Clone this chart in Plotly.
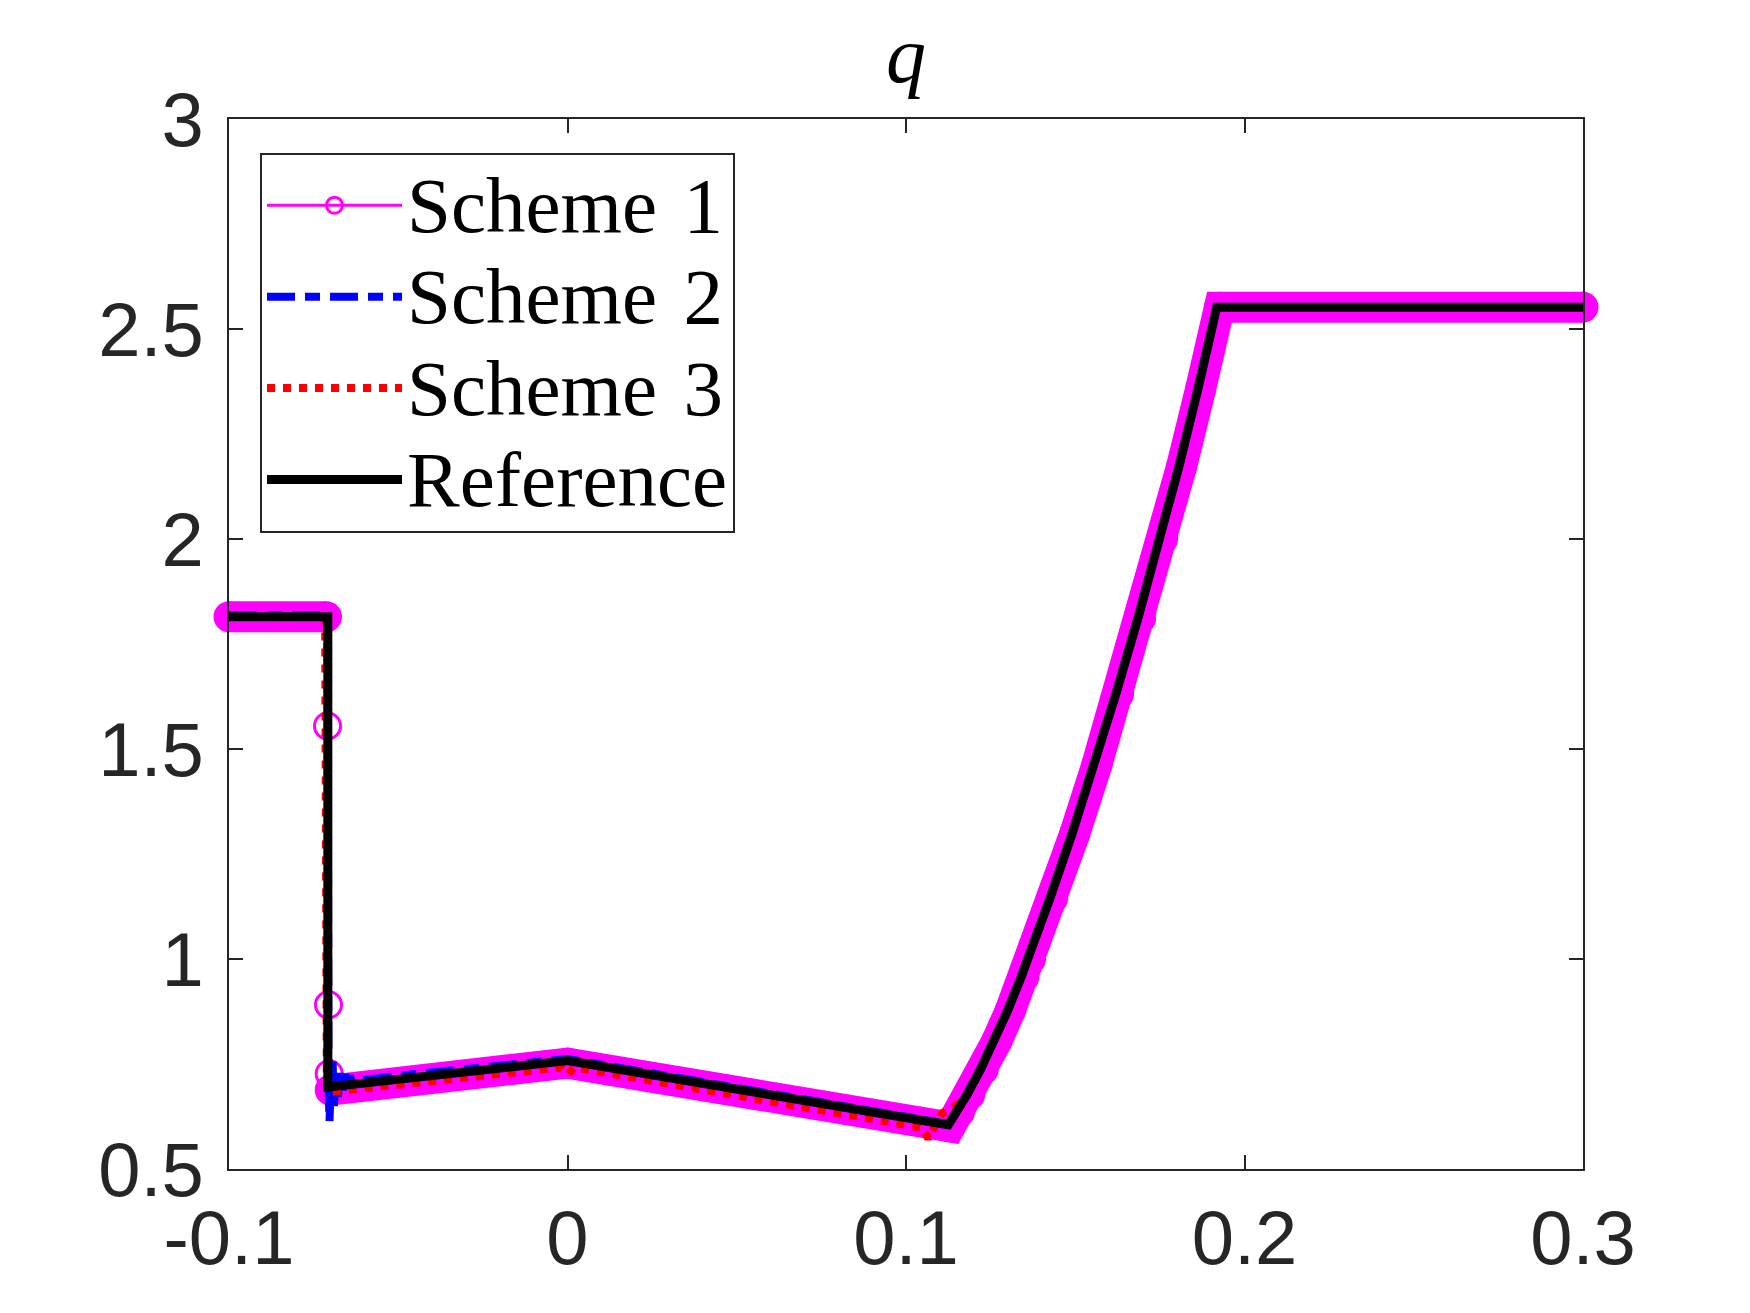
import plotly.graph_objects as go

# ---------------- data ----------------
ref_x = [-0.1, -0.0708, -0.0708, 0.0, 0.1125, 0.115, 0.118, 0.122, 0.126, 0.130,
         0.134, 0.136, 0.1425, 0.149, 0.1555, 0.162, 0.1685, 0.175, 0.1806,
         0.1862, 0.1918, 0.3]
ref_y = [1.815, 1.815, 0.695, 0.758, 0.605, 0.636, 0.677, 0.737, 0.804, 0.877,
         0.957, 1.0, 1.144, 1.297, 1.460, 1.631, 1.811, 2.0, 2.172,
         2.356, 2.552, 2.552]

# Scheme 1: left state, isolated shock samples, right part
s1_left_x = [-0.1, -0.0712]
s1_left_y = [1.815, 1.815]
s1_shock_x = [-0.0709, -0.0706, -0.0704]
s1_shock_y = [1.555, 0.891, 0.727]
s1_right_x = [-0.0701, 0.0, 0.1130, 0.1158, 0.1188, 0.1228, 0.1268, 0.1308,
              0.1348, 0.1368, 0.1433, 0.1498, 0.1563, 0.1628, 0.1693, 0.1758,
              0.1814, 0.1870, 0.1926, 0.3]
s1_right_y = [0.688, 0.752, 0.600, 0.636, 0.677, 0.737, 0.804, 0.877,
              0.957, 1.0, 1.144, 1.297, 1.460, 1.631, 1.811, 2.0,
              2.172, 2.356, 2.552, 2.552]

# Scheme 2 (oscillations behind the shock)
s2_x = [-0.1, -0.0709, -0.0706, -0.0703, -0.0700, -0.0694, -0.0690, -0.0684,
        -0.0678, -0.0671, -0.0664, -0.0657, -0.0650, -0.0643, -0.0636, -0.060,
        -0.045, -0.030, 0.0, 0.1125, 0.115, 0.118, 0.122, 0.126, 0.130,
        0.134, 0.136, 0.1425, 0.149, 0.1555, 0.162, 0.1685, 0.175, 0.1806,
        0.1862, 0.1918, 0.3]
s2_y = [1.818, 1.818, 0.700, 0.613, 0.700, 0.760, 0.650, 0.740,
        0.672, 0.728, 0.688, 0.726, 0.694, 0.722, 0.703, 0.712,
        0.726, 0.739, 0.762, 0.607, 0.636, 0.677, 0.737, 0.804, 0.877,
        0.957, 1.0, 1.144, 1.297, 1.460, 1.631, 1.811, 2.0, 2.172,
        2.356, 2.552, 2.552]

# Scheme 3
s3_x = [-0.1, -0.0716, -0.0711, -0.0706, -0.002, 0.0, 0.002, 0.105, 0.1066,
        0.1105, 0.1145, 0.118, 0.122, 0.126, 0.130, 0.134, 0.136, 0.1425,
        0.149, 0.1555, 0.162, 0.1685, 0.175, 0.1806, 0.1862, 0.1918, 0.3]
s3_y = [1.815, 1.815, 0.700, 0.683, 0.742, 0.725, 0.742, 0.598, 0.572,
        0.632, 0.650, 0.677, 0.737, 0.804, 0.877, 0.957, 1.0, 1.144,
        1.297, 1.460, 1.631, 1.811, 2.0, 2.172, 2.356, 2.552, 2.552]

x_ticks = [-0.1, 0.0, 0.1, 0.2, 0.3]
x_ticktext = ["-0.1", "0", "0.1", "0.2", "0.3"]
y_ticks = [0.5, 1.0, 1.5, 2.0, 2.5, 3.0]
y_ticktext = ["0.5", "1", "1.5", "2", "2.5", "3"]

names = ["Scheme 1", "Scheme 2", "Scheme 3", "Reference"]

MAG = "#FF00FF"
AXC = "#262626"


def legend_label(s):
    return '<span style="font-size:79px">' + s.replace(" ", "\u2004") + "</span>"


fig = go.Figure()

# thick band produced by the dense circle markers of Scheme 1
band_x = s1_left_x + [None] + s1_right_x
band_y = s1_left_y + [None] + s1_right_y
fig.add_trace(go.Scatter(
    x=band_x, y=band_y, mode="lines+markers", showlegend=False, hoverinfo="skip",
    line=dict(color=MAG, width=31), marker=dict(symbol="circle", size=31, color=MAG),
    cliponaxis=False, connectgaps=False))

fig.add_trace(go.Scatter(
    x=s1_left_x + s1_shock_x + s1_right_x, y=s1_left_y + s1_shock_y + s1_right_y,
    mode="lines+markers", name=legend_label(names[0]),
    line=dict(color=MAG, width=3),
    marker=dict(symbol="circle-open", size=26, color=MAG, line=dict(width=3, color=MAG)),
    cliponaxis=False))

fig.add_trace(go.Scatter(
    x=s2_x, y=s2_y, mode="lines", name=legend_label(names[1]),
    line=dict(color="#0000FF", width=8, dash="28px,10px,15px,10px")))

fig.add_trace(go.Scatter(
    x=s3_x, y=s3_y, mode="lines", name=legend_label(names[2]),
    line=dict(color="#FF0000", width=8, dash="8px,8px")))

fig.add_trace(go.Scatter(
    x=ref_x, y=ref_y, mode="lines", name=legend_label(names[3]),
    line=dict(color="black", width=9)))

axis_common = dict(
    showgrid=False, zeroline=False, showline=True, linecolor=AXC, linewidth=2,
    mirror="ticks", ticks="inside", ticklen=14, tickwidth=2, tickcolor=AXC,
    tickfont=dict(family="Liberation Sans, Arial, sans-serif", size=76, color=AXC),
)

fig.update_layout(
    width=1750, height=1313,
    margin=dict(l=229, r=167, t=119, b=144),
    paper_bgcolor="white", plot_bgcolor="white",
    xaxis=dict(range=[-0.1, 0.3], tickvals=x_ticks, ticktext=x_ticktext,
               ticklabelstandoff=2, **axis_common),
    yaxis=dict(range=[0.5, 3.0], tickvals=y_ticks, ticktext=y_ticktext,
               ticklabelstandoff=8, **axis_common),
    title=dict(text="<i>q</i>", x=0.5, xref="paper", xanchor="center",
               y=0.959, yref="container", yanchor="middle",
               font=dict(family="Liberation Serif, serif", size=80, color="black")),
    legend=dict(x=0.0229, y=0.968, xanchor="left", yanchor="top",
                bgcolor="white", bordercolor=AXC, borderwidth=2,
                font=dict(family="Liberation Serif, serif", size=68, color="black"),
                itemwidth=135, tracegroupgap=0),
)

fig.write_html("out.html")
